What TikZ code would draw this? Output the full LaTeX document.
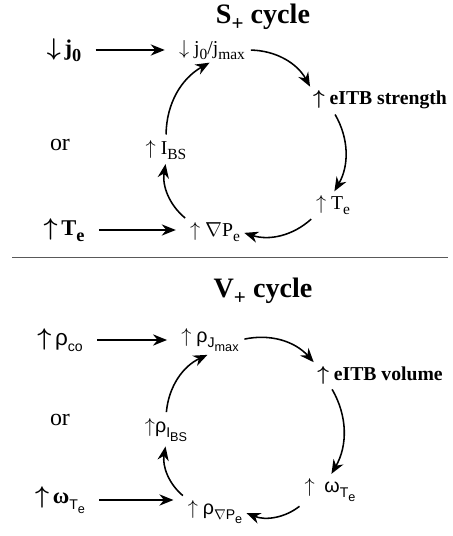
\documentclass[tikz,border=0pt]{standalone}
\usepackage{amsmath}
\usepackage{fontspec}
\setmainfont{Liberation Serif}
\setsansfont{Liberation Sans}
\usetikzlibrary{positioning, arrows.meta}

\newcommand\lowsub[2][11]{\raisebox{-0.55ex}{\fontsize{#1}{#1}\selectfont #2}}
\newcommand\up{$\uparrow$}
\newcommand\down{$\downarrow$}
\newcommand\bup{$\boldsymbol{\uparrow}$}
\newcommand\bdown{$\boldsymbol{\downarrow}$}

\tikzset{
  every node/.style={inner sep=1pt},
  heading/.style={font=\bfseries\fontsize{20}{23}\selectfont},
  source/.style={font=\bfseries\fontsize{16}{18}\selectfont},
  effect/.style={font=\bfseries\fontsize{14}{16}\selectfont},
  quantity/.style={font=\fontsize{14}{16}\selectfont},
  alt/.style={font=\fontsize{17}{19}\selectfont},
  push/.style={-{Stealth[length=10pt,width=8pt]}, line width=1.1pt, shorten >=9pt, shorten <=9pt},
  feedback/.style={-{Stealth[length=10pt,width=8pt]}, line width=1.1pt, shorten >=2pt, shorten <=3pt, bend left=30}
}

\begin{document}
\begin{tikzpicture}[x=0.025cm, y=-0.025cm]
  \useasboundingbox (0,0) rectangle (452,536);

  % S+ cycle
  \node[heading] (stitle) at (263,17) {S\lowsub[15]{+} cycle};
  \node[source] (dj0) at (64,50) {\bdown\,j\lowsub[13]{0}};
  \node[source] (ute) at (64,230) {\bup\,T\lowsub[13]{e}};
  \node[alt] (sor) at (60,145) {or};
  \node[quantity] (jratio) at (212,50) {\down\ j\lowsub{0}/j\lowsub{max}};
  \node[effect] (strength) at (380,100) {\bup\ eITB strength};
  \node[quantity] (tecirc) at (333,205) {\up\ T\lowsub{e}};
  \node[quantity] (gradp) at (215,232) {\up\ $\nabla$P\lowsub{e}};
  \node[quantity] (ibs) at (166,150) {\up\ I\lowsub{BS}};

  \draw[push] (dj0) -- (dj0 -| jratio.west);
  \draw[push] (ute) -- (ute -| gradp.west);
  \draw[feedback] (jratio.east) to (strength.north west);
  \draw[feedback] (strength.south -| tecirc.north) to (tecirc.north);
  \draw[feedback] (tecirc.south west) to (gradp.east);
  \draw[feedback] (gradp.north west) to (ibs.south);
  \draw[feedback] (ibs.north) to (jratio.south);

  \draw[line width=0.6pt, gray!70!black] (12,257) -- (448,257);

  % V+ cycle
  \node[heading] (vtitle) at (263,291) {V\lowsub[15]{+} cycle};
  \node[source] (urho) at (60,340) {\bup\,{\mdseries\sffamily ρ\lowsub[10]{co}}};
  \node[source] (uomega) at (60,500) {\bup\,ω\lowsub[10]{\mdseries\sffamily T\lowsub[9]{e}}};
  \node[alt] (vor) at (60,420) {or};
  \node[quantity] (rhojmax) at (210,340) {\up\ {\sffamily ρ\lowsub[10]{J\lowsub[9]{max}}}};
  \node[effect] (volume) at (380,375) {\bup\ eITB volume};
  \node[quantity] (omegate) at (330,490) {\up\ \ {\sffamily ω\lowsub[10]{T\lowsub[9]{e}}}};
  \node[quantity] (rhogradp) at (215,512) {\up\ {\sffamily ρ\lowsub[10]{$\nabla$P\lowsub[9]{e}}}};
  \node[quantity] (rhoibs) at (166,430) {\up{\sffamily ρ\lowsub[10]{I\lowsub[9]{BS}}}};

  \draw[push] (urho) -- (urho -| rhojmax.west);
  \draw[push] (uomega) -- (uomega -| rhogradp.west);
  \draw[feedback] (rhojmax.east) to (volume.north west);
  \draw[feedback] (volume.south -| omegate.north) to (omegate.north);
  \draw[feedback] (omegate.south west) to (rhogradp.east);
  \draw[feedback] (rhogradp.north west) to (rhoibs.south);
  \draw[feedback] (rhoibs.north) to (rhojmax.south);
\end{tikzpicture}
\end{document}
